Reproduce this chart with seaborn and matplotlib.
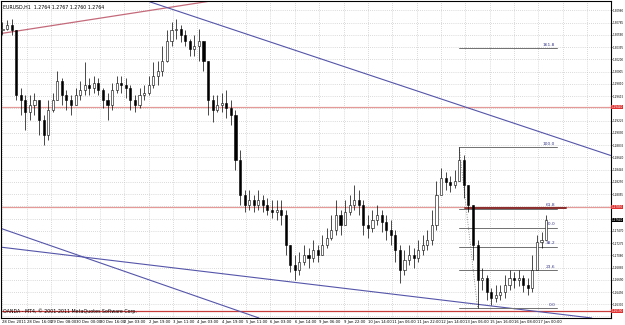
import numpy as np
import pandas as pd
import matplotlib
matplotlib.use("Agg")
import matplotlib.pyplot as plt
import matplotlib.transforms as mtrans
from matplotlib import font_manager
import seaborn as sns

# ---------------- data ----------------
title_text = "EURUSD,H1  1.2764 1.2767 1.2760 1.2764"
copyright_text = "OANDA - MT4, \u00a9 2001-2011 MetaQuotes Software Corp."
hours_per_candle = 3
hours_per_label = 16
first_open = 1.3066
close = [1.3069, 1.3074, 1.3066, 1.2963, 1.2955, 1.2936, 1.2947, 1.2955, 1.2923, 1.2899,
         1.2939, 1.2955, 1.2986, 1.2963, 1.2955, 1.2947, 1.2963, 1.2971, 1.2979, 1.2974,
         1.2983, 1.2971, 1.2955, 1.2947, 1.2971, 1.2983, 1.2979, 1.2974, 1.2955, 1.2947,
         1.2963, 1.2967, 1.2979, 1.2994, 1.3002, 1.3018, 1.3050, 1.3066, 1.3069, 1.3058,
         1.3050, 1.3037, 1.3042, 1.3050, 1.3018, 1.2955, 1.2939, 1.2947, 1.2951, 1.2942,
         1.2931, 1.2859, 1.2804, 1.2788, 1.2796, 1.2788, 1.2796, 1.2788, 1.2780, 1.2777,
         1.2780, 1.2772, 1.2724, 1.2692, 1.2684, 1.2697, 1.2708, 1.2703, 1.2716, 1.2708,
         1.2724, 1.2735, 1.2748, 1.2772, 1.2756, 1.2777, 1.2788, 1.2796, 1.2788, 1.2756,
         1.2751, 1.2764, 1.2772, 1.2761, 1.2748, 1.2740, 1.2716, 1.2684, 1.2700, 1.2708,
         1.2703, 1.2716, 1.2724, 1.2732, 1.2756, 1.2804, 1.2831, 1.2824, 1.2820, 1.2827,
         1.2859, 1.2820, 1.2788, 1.2724, 1.2669, 1.2672, 1.2650, 1.2640, 1.2645, 1.2650,
         1.2661, 1.2672, 1.2669, 1.2672, 1.2661, 1.2656, 1.2684, 1.2729, 1.2732, 1.2764]
high = [1.3079, 1.3082, 1.3085, 1.3066, 1.2974, 1.2963, 1.2963, 1.2967, 1.2955, 1.2931,
        1.2955, 1.2967, 1.3002, 1.2990, 1.2971, 1.2963, 1.2974, 1.2986, 1.3015, 1.2990,
        1.2994, 1.2990, 1.2974, 1.2967, 1.2983, 1.2994, 1.2994, 1.2990, 1.2979, 1.2963,
        1.2974, 1.2979, 1.2994, 1.3015, 1.3018, 1.3042, 1.3066, 1.3079, 1.3085, 1.3074,
        1.3066, 1.3053, 1.3058, 1.3069, 1.3047, 1.3018, 1.2963, 1.2963, 1.2967, 1.2971,
        1.2955, 1.2939, 1.2875, 1.2812, 1.2812, 1.2804, 1.2812, 1.2804, 1.2799, 1.2796,
        1.2796, 1.2796, 1.2780, 1.2724, 1.2708, 1.2713, 1.2724, 1.2719, 1.2732, 1.2724,
        1.2740, 1.2751, 1.2772, 1.2796, 1.2780, 1.2796, 1.2804, 1.2820, 1.2812, 1.2796,
        1.2772, 1.2780, 1.2788, 1.2780, 1.2772, 1.2764, 1.2748, 1.2724, 1.2716, 1.2724,
        1.2719, 1.2732, 1.2740, 1.2748, 1.2780, 1.2827, 1.2847, 1.2840, 1.2835, 1.2843,
        1.2880, 1.2867, 1.2820, 1.2788, 1.2732, 1.2688, 1.2676, 1.2656, 1.2661, 1.2661,
        1.2676, 1.2684, 1.2681, 1.2684, 1.2676, 1.2672, 1.2708, 1.2740, 1.2745, 1.2772]
low = [1.3058, 1.3066, 1.3058, 1.2955, 1.2931, 1.2907, 1.2923, 1.2931, 1.2899, 1.2883,
       1.2891, 1.2936, 1.2955, 1.2947, 1.2939, 1.2931, 1.2947, 1.2955, 1.2963, 1.2963,
       1.2967, 1.2963, 1.2942, 1.2923, 1.2939, 1.2967, 1.2967, 1.2958, 1.2939, 1.2936,
       1.2942, 1.2955, 1.2963, 1.2974, 1.2979, 1.2994, 1.3015, 1.3042, 1.3053, 1.3047,
       1.3042, 1.3026, 1.3026, 1.3018, 1.3002, 1.2931, 1.2920, 1.2936, 1.2936, 1.2926,
       1.2915, 1.2843, 1.2788, 1.2777, 1.2780, 1.2777, 1.2780, 1.2777, 1.2772, 1.2767,
       1.2764, 1.2756, 1.2708, 1.2681, 1.2669, 1.2676, 1.2692, 1.2688, 1.2697, 1.2697,
       1.2708, 1.2719, 1.2732, 1.2740, 1.2740, 1.2756, 1.2772, 1.2780, 1.2772, 1.2740,
       1.2735, 1.2745, 1.2756, 1.2745, 1.2732, 1.2724, 1.2697, 1.2664, 1.2676, 1.2692,
       1.2688, 1.2697, 1.2708, 1.2716, 1.2724, 1.2748, 1.2804, 1.2812, 1.2808, 1.2815,
       1.2835, 1.2799, 1.2777, 1.2700, 1.2624, 1.2653, 1.2637, 1.2629, 1.2634, 1.2637,
       1.2640, 1.2653, 1.2656, 1.2659, 1.2650, 1.2645, 1.2650, 1.2700, 1.2719, 1.2732]

date_labels = ["28 Dec 2011", "28 Dec 16:00", "29 Dec 08:00", "30 Dec 00:00", "30 Dec 16:00",
               "2 Jan 03:00", "2 Jan 19:00", "3 Jan 11:00", "4 Jan 03:00", "4 Jan 19:00",
               "5 Jan 11:00", "6 Jan 03:00", "6 Jan 14:00", "9 Jan 06:00", "9 Jan 22:00",
               "10 Jan 14:00", "11 Jan 06:00", "11 Jan 22:00", "12 Jan 14:00", "13 Jan 06:00",
               "15 Jan 16:00", "16 Jan 08:00", "17 Jan 00:00"]
price_ticks = [1.30980, 1.30785, 1.30590, 1.30395, 1.30200, 1.30005, 1.29810, 1.29615,
               1.29420, 1.29225, 1.29030, 1.28835, 1.28640, 1.28445, 1.28250, 1.28055,
               1.27860, 1.27665, 1.27470, 1.27275, 1.27080, 1.26885, 1.26690, 1.26495,
               1.26300, 1.26105]
red_levels = [1.2944, 1.2785, 1.2619]
current_price = 1.2764
fib_high, fib_low = 1.2880, 1.2624
fib_high_hour, fib_low_hour = 300, 312
fib_end_hour = 364
fib_levels = [0.0, 23.6, 38.2, 50.0, 61.8, 100.0, 161.8]
# trend lines: two anchor points (hour, price) each
trend_red = [(-1.3, 1.3061), (139.7, 1.3114)]
trend_blue = [[(93.8, 1.3114), (399.3, 1.2867)],
              [(-1.3, 1.2751), (162.6, 1.2613)],
              [(-1.3, 1.2721), (377.0, 1.2611)]]

# ---------------- figure ----------------
sns.set_style("white")
narrow = "Liberation Sans Narrow"
try:
    font_manager.findfont(narrow, fallback_to_default=False)
    fams = [narrow, "DejaVu Sans"]
    tick_fs = 2.5
except Exception:
    fams = ["DejaVu Sans"]
    tick_fs = 2.0
plt.rcParams['font.family'] = fams
W, H = 625, 325
fig = plt.figure(figsize=(W / 100, H / 100), dpi=100)
ax = fig.add_axes([0.5 / W, 7 / H, 610 / W, 317.5 / H])

n = len(close)
df = pd.DataFrame({"t": np.arange(n) * hours_per_candle,
                   "close": close, "high": high, "low": low})
df["open"] = [first_open] + close[:-1]
df["high"] = df[["high", "open", "close"]].max(axis=1)
df["low"] = df[["low", "open", "close"]].min(axis=1)

xmin, xmax = -1.3, 399.3
ymin, ymax = 1.26081, 1.31137
ax.set_xlim(xmin, xmax)
ax.set_ylim(ymin, ymax)

# grid
label_pos = np.arange(len(date_labels)) * hours_per_label
for p in price_ticks:
    ax.axhline(p, color="#b8b8b8", lw=0.5, ls=(0, (1, 2)), zorder=0)
for xp in np.arange(0, 26) * hours_per_label:
    ax.axvline(xp, color="#b8b8b8", lw=0.5, ls=(0, (1, 2)), zorder=0)

# red horizontal levels
for lv in red_levels[:2]:
    ax.axhline(lv, color="#e59a9a", lw=0.9, zorder=1)
ax.axhline(red_levels[2], color="#c83c3c", lw=0.9, zorder=1)
ax.plot([fib_high_hour + 4, fib_end_hour + 6], [red_levels[1] - 0.0002] * 2,
        color="#8b2c2c", lw=1.4, zorder=2)

# trend lines
ax.axline(trend_red[0], trend_red[1], color="#c46a7a", lw=0.9, zorder=1)
for a, b in trend_blue:
    ax.axline(a, b, color="#5555aa", lw=0.8, zorder=1)

# fibonacci
fib_rows = []
for lv in fib_levels:
    price = fib_low + (fib_high - fib_low) * lv / 100.0
    fib_rows.append({"level": lv, "t": fib_high_hour, "price": price})
    fib_rows.append({"level": lv, "t": fib_end_hour, "price": price})
fib_df = pd.DataFrame(fib_rows)
sns.lineplot(data=fib_df, x="t", y="price", units="level", estimator=None,
             color="#707070", lw=0.7, ax=ax, zorder=2, legend=False)
for lv in fib_levels:
    price = fib_low + (fib_high - fib_low) * lv / 100.0
    ax.text(fib_end_hour - 1, price + 0.0002, f"{lv:.1f}", fontsize=3.2,
            color="#3a3a8a", ha="right", va="bottom", zorder=3)
ax.plot([fib_high_hour, fib_low_hour], [fib_high, fib_low], color="#707070",
        lw=0.6, ls=(0, (1, 2)), zorder=2)

# candles
ax.vlines(df["t"], df["low"], df["high"], color="black", lw=0.5, zorder=4)
bull = df["close"] >= df["open"]
body_bottom = np.minimum(df["open"], df["close"])
body_h = np.maximum((df["close"] - df["open"]).abs(), 0.00005)
ax.bar(df["t"][bull], body_h[bull], bottom=body_bottom[bull], width=1.4,
       color="white", edgecolor="black", lw=0.4, zorder=5)
ax.bar(df["t"][~bull], body_h[~bull], bottom=body_bottom[~bull], width=1.4,
       color="black", edgecolor="black", lw=0.4, zorder=5)

# texts
ax.text(0.004, 0.985, title_text, transform=ax.transAxes, fontsize=3.4,
        ha="left", va="top", color="black")
ax.text(0.004, 0.012, copyright_text, transform=ax.transAxes, fontsize=3.4,
        ha="left", va="bottom", color="black")

# axes
ax.yaxis.tick_right()
blocked = red_levels + [current_price]
shown = [p for p in price_ticks if min(abs(p - b) for b in blocked) > 0.0009]
ax.set_yticks(shown)
ax.set_yticklabels([f"{p:.5f}" for p in shown], fontsize=tick_fs)
ax.set_xticks(label_pos)
ax.set_xticklabels(date_labels, fontsize=2.7, ha="left")
ax.tick_params(axis="both", length=1.0, width=0.5, pad=0.4, colors="black")
ax.set_xlabel("")
ax.set_ylabel("")
for s in ax.spines.values():
    s.set_color("black")
    s.set_linewidth(0.8)

trans = mtrans.blended_transform_factory(ax.transAxes, ax.transData)
for lv in red_levels:
    ax.text(1.002, lv, f"{lv:.5f}", transform=trans, fontsize=tick_fs, color="white",
            ha="left", va="center", zorder=10, clip_on=False,
            bbox=dict(boxstyle="square,pad=0.1", fc="#e03030", ec="none"))
ax.text(1.002, current_price, f"{current_price:.5f}", transform=trans, fontsize=tick_fs,
        color="white", ha="left", va="center", zorder=10, clip_on=False,
        bbox=dict(boxstyle="square,pad=0.1", fc="black", ec="none"))

fig.savefig("out.png", dpi=100)
